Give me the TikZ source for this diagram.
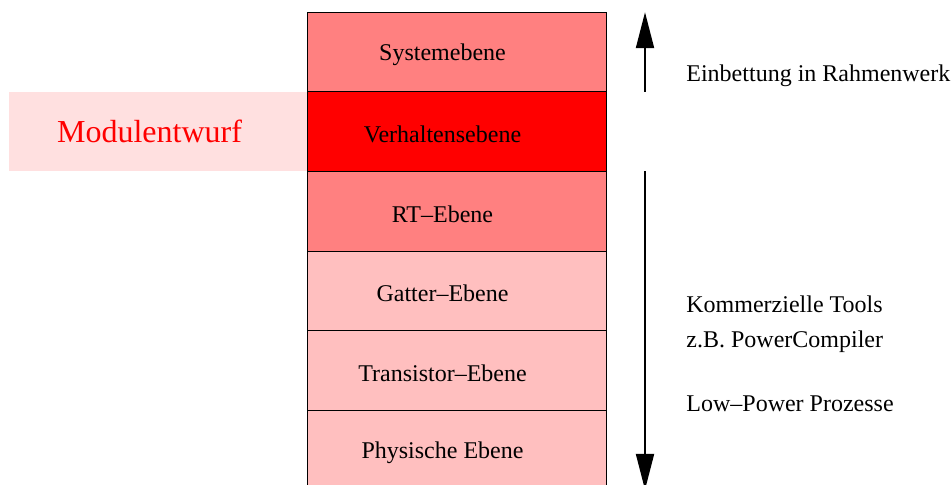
\documentclass[tikz,border=0pt]{standalone}
\usepackage{fontspec}
\setmainfont{Liberation Serif}
\usetikzlibrary{positioning,arrows.meta}
\definecolor{highcolor}{RGB}{255,128,128}
\definecolor{activecolor}{RGB}{255,0,0}
\definecolor{lowcolor}{RGB}{255,191,191}
\definecolor{modulcolor}{RGB}{255,224,224}

\begin{document}
\begin{tikzpicture}[
    x=0.5pt, y=-0.5pt,
    level/.style={rectangle, draw, line width=0.5pt, minimum width=149.5pt, minimum height=39.8pt,
        inner sep=0pt, outer sep=0pt, font=\fontsize{12}{14}\selectfont,
        execute at begin node={\hspace*{-14pt}\rule{0pt}{11pt}}},
    modul/.style={rectangle, fill=modulcolor, minimum width=149pt, minimum height=39.8pt,
        inner sep=0pt, outer sep=0pt, text=red, font=\fontsize{16}{19}\selectfont,
        execute at begin node={\hspace*{-8pt}}},
    note/.style={anchor=base west, inner sep=0pt, font=\fontsize{12}{14}\selectfont},
    arrow/.style={-{Triangle[length=18pt, width=9pt]}, line width=1pt}
]
\useasboundingbox (0,0) rectangle (951,484);

% Abstraction levels, top to bottom
\node[level, fill=highcolor] (system) at (456.5,52) {Systemebene};
\node[level, fill=activecolor, below=0pt of system] (verhalten) {Verhaltensebene};
\node[level, fill=highcolor, below=0pt of verhalten] (rt) {RT--Ebene};
\node[level, fill=lowcolor, below=0pt of rt] (gatter) {Gatter--Ebene};
\node[level, fill=lowcolor, below=0pt of gatter] (transistor) {Transistor--Ebene};
\node[level, fill=lowcolor, below=0pt of transistor] (physisch) {Physische Ebene};

% Highlight of the module design level
\node[modul, left=0.25pt of verhalten] (modulentwurf) {Modulentwurf};

% Arrow end points
\coordinate (up_start) at ([xshift=19.5pt]verhalten.north east);
\coordinate (up_end) at ([xshift=19.5pt]system.north east);
\coordinate (down_start) at ([xshift=19.5pt]rt.north east);
\coordinate (down_end) at ([xshift=19.5pt]physisch.south east);

% Arrows
\draw[arrow] (up_start) -- (up_end);
\draw[arrow] (down_start) -- (down_end);

% Notes
\node[note] (embed) at (686,81.5) {Einbettung in Rahmenwerk};
\node[note] (tools) at (686,312) {Kommerzielle Tools};
\node[note] (compiler) at (686,347) {z.B. PowerCompiler};
\node[note] (process) at (686,411) {Low--Power Prozesse};

\end{tikzpicture}
\end{document}
